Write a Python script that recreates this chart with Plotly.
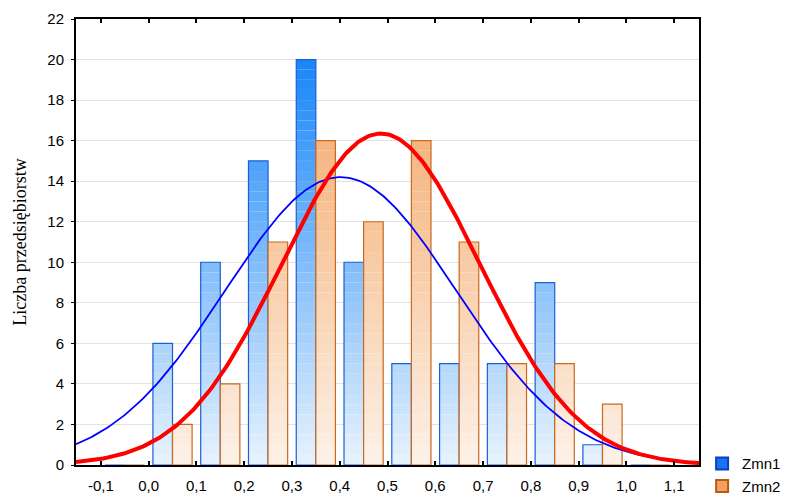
import numpy as np
import plotly.graph_objects as go

# ---- data ----
bin_centers = [-0.05, 0.05, 0.15, 0.25, 0.35, 0.45, 0.55, 0.65, 0.75, 0.85, 0.95, 1.05]
zmn1_counts = [0, 6, 10, 15, 20, 10, 5, 5, 5, 9, 1, 0]
zmn2_counts = [0, 2, 4, 11, 16, 12, 16, 11, 5, 5, 3, 0]

zmn1_fit = dict(mean=0.402, sd=0.2416, n=86)
zmn2_fit = dict(mean=0.486, sd=0.2074, n=85)
bin_width = 0.1

x_tickvals = [-0.1, 0.0, 0.1, 0.2, 0.3, 0.4, 0.5, 0.6, 0.7, 0.8, 0.9, 1.0, 1.1]
x_ticktext = ["-0,1", "0,0", "0,1", "0,2", "0,3", "0,4", "0,5", "0,6", "0,7", "0,8", "0,9", "1,0", "1,1"]
y_tickvals = list(range(0, 23, 2))

series = [
    dict(name="Zmn1", counts=zmn1_counts, offset=-0.041, width=0.041,
         bottom=(232, 243, 254), top=(24, 134, 248), line="#1A5FD6", legend="#1874F0", legline="#0A3FBF"),
    dict(name="Zmn2", counts=zmn2_counts, offset=0.0, width=0.041,
         bottom=(253, 242, 232), top=(243, 165, 100), line="#C8691E", legend="#F5A060", legline="#B85A10"),
]

fig = go.Figure()

step = 0.5
edges = np.arange(0, 22 + step, step)
for s in series:
    v = np.array(s["counts"], dtype=float)
    for lo in edges[:-1]:
        h = np.clip(v - lo, 0, step)
        if not np.any(h > 0):
            continue
        t = min((lo + step / 2) / 20.0, 1.0)
        c = tuple(int(round(b + (tp - b) * t)) for b, tp in zip(s["bottom"], s["top"]))
        fig.add_trace(go.Bar(
            x=bin_centers, y=h, base=[lo] * len(h),
            offset=s["offset"], width=s["width"],
            marker=dict(color="rgb(%d,%d,%d)" % c, line=dict(width=0)),
            showlegend=False, hoverinfo="skip"))
    # outline
    fig.add_trace(go.Bar(
        x=bin_centers, y=s["counts"], offset=s["offset"], width=s["width"],
        marker=dict(color="rgba(0,0,0,0)", line=dict(color=s["line"], width=1.2)),
        showlegend=False, name=s["name"]))

# normal curves
xs = np.linspace(-0.152, 1.152, 300)
for fit, color, w in [(zmn1_fit, "#0000FF", 1.8), (zmn2_fit, "#FF0000", 4)]:
    ys = fit["n"] * bin_width / (fit["sd"] * np.sqrt(2 * np.pi)) * np.exp(-0.5 * ((xs - fit["mean"]) / fit["sd"]) ** 2)
    fig.add_trace(go.Scatter(x=xs, y=ys, mode="lines", line=dict(color=color, width=w),
                             showlegend=False, hoverinfo="skip", cliponaxis=True))

# legend entries
for s in series:
    fig.add_trace(go.Bar(x=[None], y=[None], name=s["name"],
                         marker=dict(color=s["legend"], line=dict(color=s["legline"], width=2))))

fig.update_layout(
    width=795, height=498,
    margin=dict(l=76, r=96, t=19, b=33, autoexpand=False),
    plot_bgcolor="white", paper_bgcolor="white",
    barmode="overlay",
    font=dict(family="Liberation Sans, Arial", size=15, color="black"),
    legend=dict(x=1.005, y=0.04, xanchor="left", yanchor="top",
                font=dict(size=15), bgcolor="rgba(0,0,0,0)", tracegroupgap=0),
)
fig.update_xaxes(range=[-0.152, 1.152], tickvals=x_tickvals, ticktext=x_ticktext,
                 showgrid=False, zeroline=False, showline=True, linecolor="black", linewidth=2,
                 mirror="ticks", ticks="inside", ticklen=4, tickwidth=2, tickcolor="black",
                 ticklabelstandoff=6)
fig.update_yaxes(range=[0, 22], tickvals=y_tickvals,
                 showgrid=True, gridcolor="#E2E2E2", gridwidth=1, zeroline=False,
                 showline=True, linecolor="black", linewidth=2, mirror=True,
                 ticks="outside", ticklen=3, tickcolor="black", ticklabelstandoff=4,
                 title=dict(text="Liczba przedsiębiorstw",
                            font=dict(family="Liberation Serif, Times New Roman", size=18), standoff=16))

fig.write_html("out.html", config={"displayModeBar": False},
               post_script="document.body.style.margin='0';document.body.style.overflow='hidden';")
